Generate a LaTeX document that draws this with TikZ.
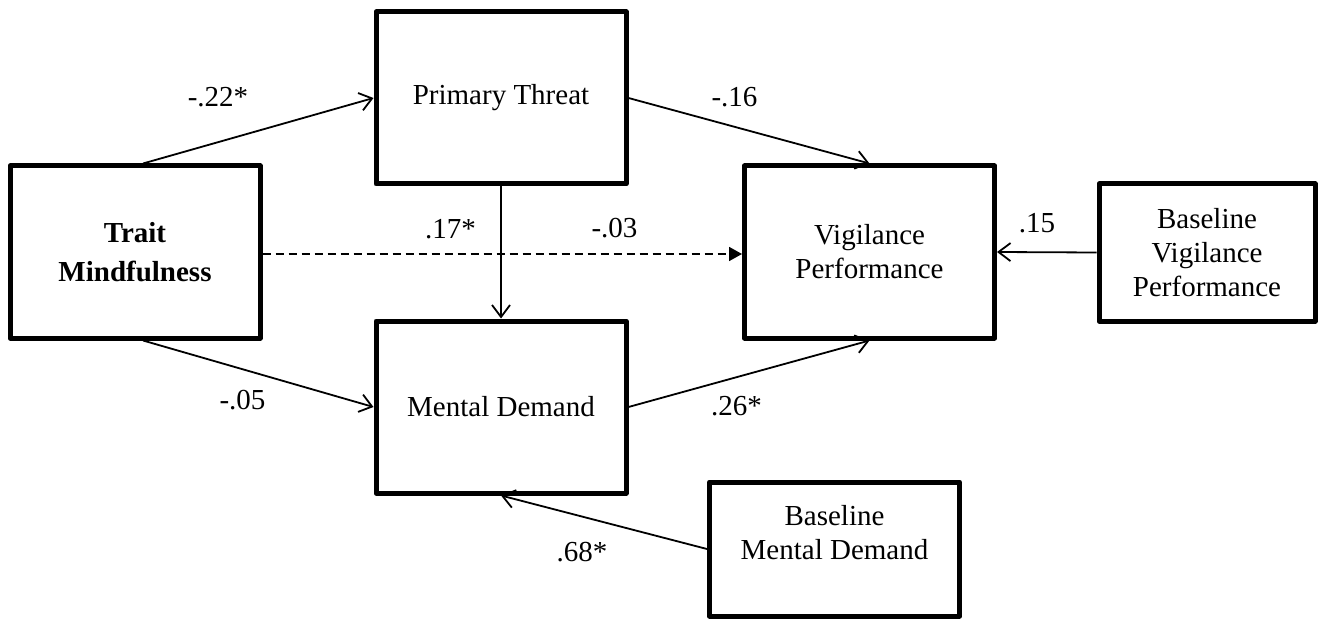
\documentclass[tikz,border=0pt]{standalone}
\usepackage{fontspec}
\setmainfont{Liberation Serif}
\usetikzlibrary{arrows.meta}
\begin{document}
\begin{tikzpicture}[x=1pt,y=-1pt,
  box/.style={draw=black, line width=5pt, line join=round, rectangle, inner sep=0pt,
    minimum width=250pt, minimum height=172pt, align=center,
    font=\fontsize{29}{34}\selectfont},
  txt/.style={inner sep=0pt, align=center, font=\fontsize{29}{34}\selectfont},
  lbl/.style={inner sep=0pt, anchor=base, font=\fontsize{29}{34}\selectfont},
  conn/.style={draw=black, line width=1.8pt, -{Straight Barb[length=12pt,width=18pt,line width=1.8pt]}},
  dconn/.style={draw=black, line width=1.8pt, dash pattern=on 8pt off 5pt, -{Triangle[length=13pt,width=14pt]}}
]
\useasboundingbox (0,0) rectangle (1321,620);

\node[box, font=\fontsize{29}{39}\selectfont\bfseries] (tm) at (135,252) {Trait\\Mindfulness};
\node[box] (pt) at (501,98) {Primary Threat};
\node[box] (md) at (501,407) {Mental Demand};
\node[box] (vp) at (869.5,252) {Vigilance\\Performance};
\node[box, minimum width=216pt, minimum height=137pt] (bvp) at (1207,252.5) {Baseline\\Vigilance\\Performance};
\node[box, minimum height=134pt] (bmd) at (834.5,549) {};
\node[txt] (bmdt) at (834.5,533) {Baseline\\Mental Demand};

\draw[conn] ([xshift=8pt]tm.north) -- (pt.west);
\draw[conn] ([xshift=8pt]tm.south) -- (md.west);
\draw[conn] (pt.south) -- (md.north);
\draw[dconn] ([yshift=-2pt]tm.east) -- ([yshift=-2pt]vp.west);
\draw[conn] (pt.east) -- (vp.north);
\draw[conn] (md.east) -- (vp.south);
\draw[conn] (bvp.west) -- (vp.east);
\draw[conn] (bmd.west) -- (md.south);

\node[lbl] (l1) at (218,107) {-.22*};
\node[lbl] (l2) at (450.5,239) {.17*};
\node[lbl] (l3) at (614.5,237) {-.03};
\node[lbl] (l4) at (242.5,409) {-.05};
\node[lbl] (l5) at (582,561) {.68*};
\node[lbl] (l6) at (734.5,107) {-.16};
\node[lbl] (l7) at (1037,233) {.15};
\node[lbl] (l8) at (736.5,415) {.26*};
\end{tikzpicture}
\end{document}
